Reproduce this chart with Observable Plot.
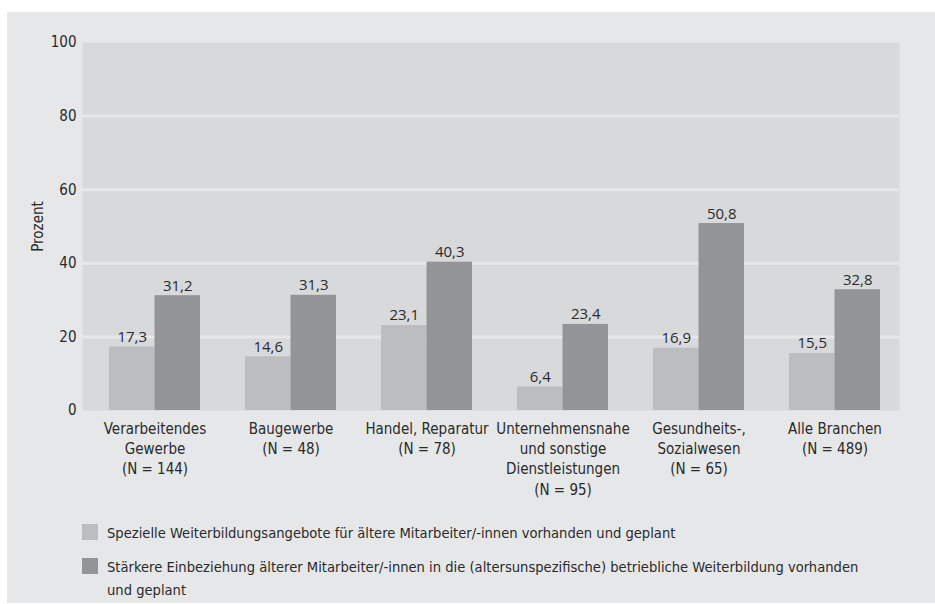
<!DOCTYPE html>
<html>
<head>
<meta charset="utf-8">
<script src="https://cdn.jsdelivr.net/npm/d3@7"></script>
<script src="https://cdn.jsdelivr.net/npm/@observablehq/plot@0.6"></script>
<style>
  html, body { margin: 0; padding: 0; background: #ffffff; }
  #page { position: relative; width: 935px; height: 604px; overflow: hidden; }
  #bg { position: absolute; left: 7px; top: 12px; right: 0; bottom: 1px; background: #e6e7e9; }
  #chart { position: absolute; left: 0; top: 0; }
  #chart svg { background: transparent; }
  #legend { position: absolute; left: 82px; top: 521px; font-family: "Liberation Sans Narrow", "DejaVu Sans Condensed", "Roboto", sans-serif; font-stretch: condensed; font-size: 14.6px; color: #2a2a2a; }
  .item { display: flex; align-items: flex-start; margin-bottom: 11px; }
  .sw { width: 16px; height: 16px; flex: none; margin-top: 3px; margin-right: 9px; }
  .txt { line-height: 23px; }
</style>
</head>
<body>
<div id="page">
  <div id="bg"></div>
  <div id="chart"></div>
  <div id="legend"></div>
</div>
<script>
const categories = [
  "Verarbeitendes\nGewerbe\n(N = 144)",
  "Baugewerbe\n(N = 48)",
  "Handel, Reparatur\n(N = 78)",
  "Unternehmensnahe\nund sonstige\nDienstleistungen\n(N = 95)",
  "Gesundheits-,\nSozialwesen\n(N = 65)",
  "Alle Branchen\n(N = 489)"
];
const speziell = [17.3, 14.6, 23.1, 6.4, 16.9, 15.5];
const staerker = [31.2, 31.3, 40.3, 23.4, 50.8, 32.8];
const seriesNames = [
  "Spezielle Weiterbildungsangebote für ältere Mitarbeiter/-innen vorhanden und geplant",
  "Stärkere Einbeziehung älterer Mitarbeiter/-innen in die (altersunspezifische) betriebliche Weiterbildung vorhanden<br>und geplant"
];
const yTicks = [0, 20, 40, 60, 80, 100];

const colors = ["#bcbdc0", "#939497"];
const condensed = "'Liberation Sans Narrow', 'DejaVu Sans Condensed', Roboto, sans-serif";
const fmt = v => v.toFixed(1).replace(".", ",");

const dataA = categories.map((c, i) => ({cat: c, v: speziell[i]}));
const dataB = categories.map((c, i) => ({cat: c, v: staerker[i]}));

const half = 45.5;

const chart = Plot.plot({
  width: 935,
  height: 500,
  marginTop: 42,
  marginBottom: 90,
  marginLeft: 82,
  marginRight: 36,
  style: {background: "transparent", fontFamily: condensed, fontSize: "15px", color: "#2a2a2a", overflow: "visible"},
  x: {domain: categories, paddingInner: 0.3328, paddingOuter: 0.161, align: 0.59, label: null},
  y: {domain: [0, 100], ticks: yTicks, label: null},
  marks: [
    Plot.frame({fill: "#d8d9db", stroke: null}),
    Plot.gridY([20, 40, 60, 80], {stroke: "#e6e7e9", strokeWidth: 3, strokeOpacity: 1}),
    Plot.barY(dataA, {x: "cat", y: "v", fill: colors[0], insetRight: half}),
    Plot.barY(dataB, {x: "cat", y: "v", fill: colors[1], insetLeft: half}),
    Plot.text(dataA, {x: "cat", y: "v", text: d => fmt(d.v), dx: -half / 2, dy: -5, lineAnchor: "bottom", fontFamily: "'Open Sans', 'Noto Sans', sans-serif", fontSize: 15, fill: "#2a2a2a"}),
    Plot.text(dataB, {x: "cat", y: "v", text: d => fmt(d.v), dx: half / 2, dy: -5, lineAnchor: "bottom", fontFamily: "'Open Sans', 'Noto Sans', sans-serif", fontSize: 15, fill: "#2a2a2a"}),
    Plot.axisY({ticks: yTicks, tickSize: 0, tickPadding: 6, fontSize: 15, label: "Prozent", labelAnchor: "center", labelArrow: "none", labelOffset: 50}),
    Plot.axisX({tickSize: 0, tickPadding: 9, fontSize: 15, lineHeight: 1.35, label: null})
  ]
});
document.getElementById("chart").appendChild(chart);

const legend = document.getElementById("legend");
seriesNames.forEach((name, i) => {
  const item = document.createElement("div");
  item.className = "item";
  item.innerHTML = `<div class="sw" style="background:${colors[i]}"></div><div class="txt">${name}</div>`;
  legend.appendChild(item);
});
</script>
</body>
</html>
